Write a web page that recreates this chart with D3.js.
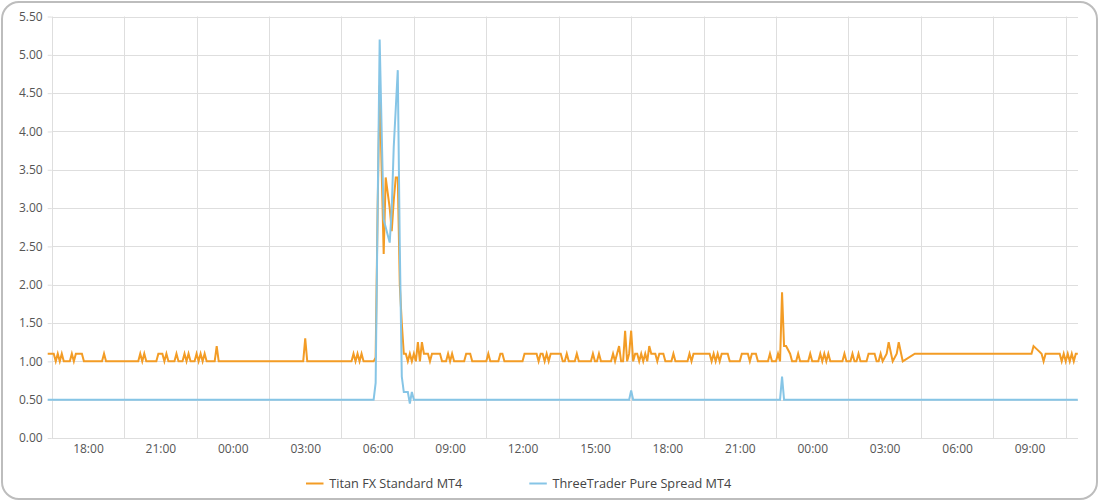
<!DOCTYPE html>
<html><head><meta charset="utf-8">
<script src="https://cdn.jsdelivr.net/npm/d3@7/dist/d3.min.js"></script>
<style>
body{margin:0;background:#fff}
svg{display:block;font-family:"Open Sans","Noto Sans",sans-serif}
</style>
</head><body>
<svg id="chart" width="1100" height="502"></svg>
<script>
// ---- DATA (time in minutes since the first sample at 16:20) ----
const seriesNames = ["Titan FX Standard MT4", "ThreeTrader Pure Spread MT4"];
const seriesColors = ["#f39c25", "#86c5e6"];
const xTickLabels = ["18:00","21:00","00:00","03:00","06:00","09:00","12:00","15:00","18:00","21:00","00:00","03:00","06:00","09:00"];
const yTickValues = [0,0.5,1,1.5,2,2.5,3,3.5,4,4.5,5,5.5];

const titanFX = [
[0,1.1],[15,1.1],[20,1.0],[25,1.1],[30,1.0],[35,1.1],[40,1.0],[55,1.0],[60,1.1],[65,1.0],[70,1.1],[85,1.1],[90,1.0],
[135,1.0],[140,1.1],[145,1.0],[225,1.0],[230,1.1],[235,1.0],[240,1.1],[245,1.0],[270,1.0],[275,1.1],[285,1.1],[290,1.0],
[295,1.1],[300,1.0],[315,1.0],[320,1.1],[325,1.0],[335,1.0],[340,1.1],[345,1.0],[350,1.1],[355,1.0],[365,1.0],[370,1.1],
[375,1.0],[380,1.1],[385,1.0],[390,1.1],[395,1.0],[415,1.0],[420,1.2],[425,1.0],[635,1.0],[640,1.3],[645,1.0],
[755,1.0],[760,1.1],[765,1.0],[770,1.1],[775,1.0],[780,1.1],[785,1.0],[810,1.0],
[815,1.05],[820,3.0],[825,4.6],[830,3.5],[835,2.4],[840,3.4],[845,3.2],[850,3.0],[855,2.7],[860,3.1],[865,3.4],[870,3.4],
[875,2.0],[880,1.5],[885,1.1],[890,1.1],[895,1.0],[900,1.1],[905,1.0],[910,1.1],[915,1.0],[920,1.25],[925,1.0],[930,1.25],
[935,1.1],[945,1.1],[950,1.0],[955,1.1],[975,1.1],[980,1.0],[990,1.0],[995,1.1],[1000,1.0],[1005,1.1],[1010,1.0],
[1035,1.0],[1040,1.1],[1050,1.1],[1055,1.0],[1090,1.0],[1095,1.1],[1100,1.0],[1120,1.0],[1125,1.1],[1130,1.1],[1135,1.0],
[1180,1.0],[1185,1.1],[1215,1.1],[1220,1.0],[1225,1.1],[1230,1.1],[1235,1.0],[1240,1.1],[1245,1.0],[1250,1.1],[1275,1.1],
[1280,1.0],[1285,1.0],[1290,1.1],[1295,1.0],[1310,1.0],[1315,1.1],[1320,1.0],[1350,1.0],[1355,1.1],[1360,1.0],[1365,1.0],
[1370,1.1],[1375,1.0],[1400,1.0],[1405,1.1],[1410,1.0],[1415,1.1],[1420,1.2],[1425,1.0],[1430,1.0],[1435,1.4],[1440,1.0],
[1445,1.1],[1450,1.4],[1455,1.0],[1460,1.1],[1465,1.1],[1470,1.0],[1475,1.1],[1480,1.0],[1485,1.1],[1490,1.0],[1495,1.2],
[1500,1.1],[1510,1.1],[1515,1.0],[1520,1.1],[1530,1.1],[1535,1.0],[1550,1.0],[1555,1.1],[1560,1.0],[1590,1.0],[1595,1.1],
[1600,1.0],[1605,1.1],[1645,1.1],[1650,1.0],[1655,1.1],[1660,1.0],[1665,1.1],[1670,1.0],[1675,1.1],[1690,1.1],[1695,1.0],
[1720,1.0],[1725,1.1],[1740,1.1],[1745,1.0],[1750,1.1],[1760,1.1],[1765,1.0],[1790,1.0],[1795,1.1],[1800,1.0],[1810,1.0],
[1815,1.1],[1820,1.0],[1825,1.9],[1830,1.2],[1835,1.2],[1845,1.1],[1850,1.0],[1860,1.0],[1865,1.1],[1870,1.0],[1890,1.0],
[1895,1.1],[1900,1.0],[1915,1.0],[1920,1.1],[1925,1.0],[1930,1.1],[1935,1.0],[1940,1.1],[1945,1.0],[1975,1.0],[1980,1.1],
[1985,1.0],[1995,1.0],[2000,1.1],[2005,1.0],[2010,1.0],[2015,1.1],[2020,1.0],[2035,1.0],[2040,1.1],[2055,1.1],[2060,1.0],
[2065,1.0],[2070,1.1],[2075,1.0],[2085,1.1],[2090,1.25],[2100,1.0],[2110,1.1],[2115,1.25],[2125,1.0],[2155,1.1],
[2445,1.1],[2450,1.2],[2460,1.15],[2470,1.1],[2475,1.0],[2480,1.1],[2515,1.1],[2520,1.0],[2525,1.1],[2530,1.0],
[2535,1.1],[2540,1.0],[2545,1.1],[2550,1.0],[2555,1.1],[2560,1.1]
];

const threeTrader = [
[0,0.5],[810,0.5],[815,0.72],[820,3.0],[825,5.2],[830,4.0],[835,2.85],[840,2.75],[845,2.65],[850,2.55],[855,3.0],
[860,3.8],[865,4.3],[870,4.8],[875,2.5],[880,0.8],[885,0.6],[895,0.6],[900,0.45],[905,0.6],[910,0.5],
[1445,0.5],[1450,0.62],[1455,0.5],[1820,0.5],[1825,0.8],[1830,0.5],[2560,0.5]
];

// ---- CHART ----
const svg = d3.select("#chart");
const W = 1100, H = 502;
const plot = {left: 51.7, right: 1078, top: 16.5, bottom: 438};

svg.append("rect").attr("x",2).attr("y",2).attr("width",W-5).attr("height",H-5)
  .attr("rx",17).attr("fill","#fff").attr("stroke","#bdbdbd").attr("stroke-width",2);

const x = d3.scaleLinear().domain([0, 2560]).range([47.7, 1077.8]);
const y = d3.scaleLinear().domain([0, 5.5]).range([plot.bottom, plot.top]);

const labelMinutes = xTickLabels.map((_, i) => 100 + 180 * i);
const gridMinutes = d3.range(10, 2561, 180);

const gridColor = "#dedede";
// horizontal grid + y axis
const yAxis = d3.axisLeft(y).tickValues(yTickValues).tickFormat(d3.format(".2f"))
  .tickSize(4).tickPadding(5);
const yg = svg.append("g").attr("transform", `translate(${plot.left},0)`).call(yAxis);
yg.select(".domain").remove();
yg.selectAll(".tick line").attr("stroke", gridColor);
yg.selectAll(".tick text").attr("fill","#555").attr("font-size",12).attr("font-family","Open Sans");
svg.append("g").selectAll("line").data(yTickValues).join("line")
  .attr("x1", plot.left).attr("x2", plot.right)
  .attr("y1", d => Math.round(y(d)) + 0.5).attr("y2", d => Math.round(y(d)) + 0.5)
  .attr("stroke", gridColor).attr("stroke-width", 1);

// vertical grid
svg.append("g").selectAll("line").data(gridMinutes).join("line")
  .attr("x1", d => Math.round(x(d)) + 0.5).attr("x2", d => Math.round(x(d)) + 0.5)
  .attr("y1", plot.top).attr("y2", plot.bottom)
  .attr("stroke", gridColor).attr("stroke-width", 1);

// x axis labels
const xAxis = d3.axisBottom(x).tickValues(labelMinutes)
  .tickFormat((d, i) => xTickLabels[i]).tickSize(0).tickPadding(6);
const xg = svg.append("g").attr("transform", `translate(0,${plot.bottom})`).call(xAxis);
xg.select(".domain").remove();
xg.selectAll(".tick text").attr("fill","#555").attr("font-size",12).attr("font-family","Open Sans");

// lines (ThreeTrader drawn on top)
const line = d3.line().x(d => x(d[0])).y(d => y(d[1]));
[titanFX, threeTrader].forEach((data, i) => {
  svg.append("path").datum(data).attr("d", line)
    .attr("fill","none").attr("stroke", seriesColors[i]).attr("stroke-width", 2)
    .attr("stroke-linejoin","miter");
});

// legend
const legendX = [306, 529.3];
const lg = svg.append("g");
seriesNames.forEach((name, i) => {
  const g = lg.append("g").attr("transform", `translate(${legendX[i]},483.5)`);
  g.append("line").attr("x1",0).attr("x2",17.5).attr("y1",0).attr("y2",0)
    .attr("stroke", seriesColors[i]).attr("stroke-width",2);
  g.append("text").attr("x",23.3).attr("y",0).attr("dy","0.35em")
    .attr("font-size",12.7).attr("fill","#444").attr("font-family","Open Sans").text(name);
});
</script>
</body></html>
